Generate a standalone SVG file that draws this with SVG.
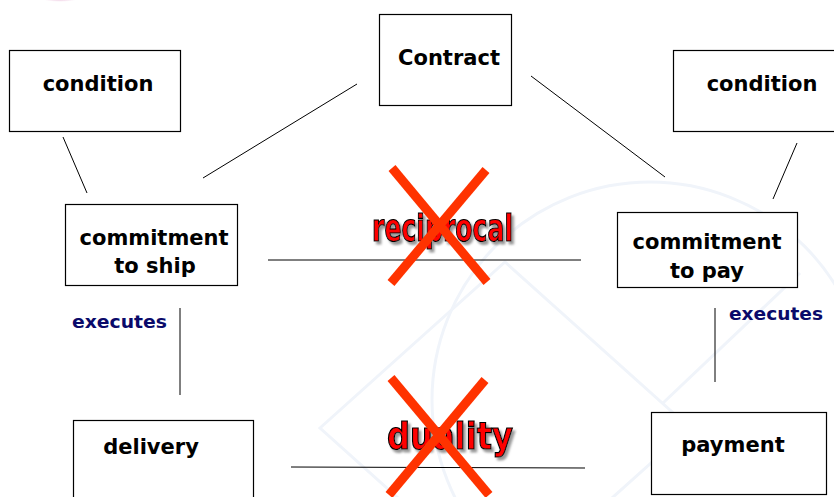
<svg xmlns="http://www.w3.org/2000/svg" width="834" height="497" viewBox="0 0 834 497">
<style>
.box{fill:#fff;stroke:#000;stroke-width:1.2}
.lbl{font-family:"DejaVu Sans","Liberation Sans",sans-serif;font-weight:bold;font-size:21px;fill:#000}
.exe{font-family:"DejaVu Sans","Liberation Sans",sans-serif;font-weight:bold;font-size:18px;fill:#0a0a6a}
.conn line{stroke:#000;stroke-width:1}
.wm{fill:none;stroke:#f0f4fa;stroke-width:3}
.cross{stroke:#ff3300;stroke-width:9}
.red{font-family:"DejaVu Sans Condensed","DejaVu Sans","Liberation Sans",sans-serif;font-weight:900;font-stretch:condensed;font-size:38px;fill:#ff0000;stroke:#000;stroke-width:1.2;filter:url(#sh)}
</style>
<defs>
<radialGradient id="mag" cx="0.5" cy="0.3" r="0.6">
<stop offset="0" stop-color="#7a1050"/>
<stop offset="0.6" stop-color="#b03080"/>
<stop offset="1" stop-color="#f5d0e8" stop-opacity="0"/>
</radialGradient>
<filter id="sh" x="-10%" y="-20%" width="120%" height="150%">
<feDropShadow dx="2.5" dy="3" stdDeviation="0.8" flood-color="#999"/>
</filter>
</defs>
<rect width="834" height="497" fill="#fff"/>
<g id="watermark">
<circle class="wm" cx="650" cy="400" r="218"/>
<polygon class="wm" points="320,428 505,262 690,428 505,594"/>
<polyline class="wm" points="663,403 800,273"/>
</g>
<ellipse cx="60" cy="-6" rx="26" ry="10" fill="url(#mag)"/>
<g id="connectors" class="conn">
<line x1="357" y1="84" x2="203" y2="178"/>
<line x1="531" y1="76" x2="665" y2="177"/>
<line x1="63" y1="137" x2="87" y2="193"/>
<line x1="797" y1="143" x2="773" y2="199"/>
<line x1="268" y1="260" x2="581" y2="260"/>
<line x1="291" y1="467" x2="585" y2="468"/>
<line x1="180" y1="308" x2="180" y2="395"/>
<line x1="715" y1="308" x2="715" y2="382"/>
</g>
<g id="contract"><rect class="box" x="379.5" y="14.5" width="132" height="91"/><text class="lbl" x="449" y="65" text-anchor="middle">Contract</text></g>
<g id="condition-left"><rect class="box" x="9.5" y="50.5" width="171" height="81"/><text class="lbl" x="98" y="91" text-anchor="middle">condition</text></g>
<g id="condition-right"><rect class="box" x="673.5" y="50.5" width="170" height="81"/><text class="lbl" x="762" y="91" text-anchor="middle">condition</text></g>
<g id="commitment-ship"><rect class="box" x="65.5" y="204.5" width="172" height="81"/><text class="lbl" x="154" y="245" text-anchor="middle">commitment</text><text class="lbl" x="155" y="273" text-anchor="middle">to ship</text></g>
<g id="commitment-pay"><rect class="box" x="617.5" y="212.5" width="180" height="75"/><text class="lbl" x="707" y="249" text-anchor="middle">commitment</text><text class="lbl" x="707" y="278" text-anchor="middle">to pay</text></g>
<g id="delivery"><rect class="box" x="73.5" y="420.5" width="180" height="90"/><text class="lbl" x="151" y="454" text-anchor="middle">delivery</text></g>
<g id="payment"><rect class="box" x="651.5" y="412.5" width="175" height="82"/><text class="lbl" x="733" y="452" text-anchor="middle">payment</text></g>
<text class="exe" x="72" y="328" textLength="95" lengthAdjust="spacingAndGlyphs">executes</text>
<text class="exe" x="729" y="320" textLength="94" lengthAdjust="spacingAndGlyphs">executes</text>
<g id="reciprocal">
<text class="red" x="372" y="241" textLength="141" lengthAdjust="spacingAndGlyphs">reciprocal</text>
<line class="cross" x1="392" y1="168" x2="487" y2="282"/>
<line class="cross" x1="486" y1="170" x2="391" y2="283"/>
</g>
<g id="duality">
<text class="red" x="387" y="449" textLength="126" lengthAdjust="spacingAndGlyphs">duality</text>
<line class="cross" x1="391" y1="378" x2="489" y2="495"/>
<line class="cross" x1="485" y1="380" x2="389" y2="495"/>
</g>
</svg>
